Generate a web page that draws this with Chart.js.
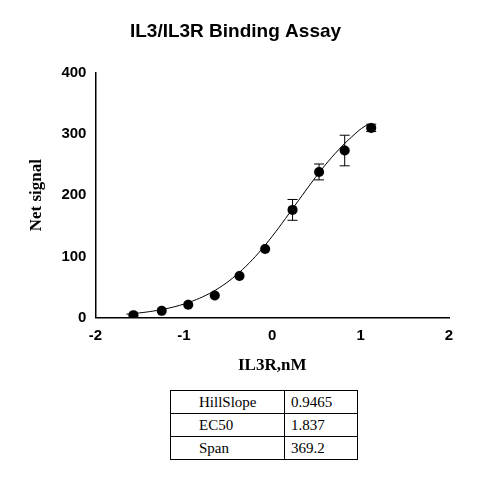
<!DOCTYPE html>
<html>
<head>
<script src="https://cdn.jsdelivr.net/npm/chart.js@4"></script>
<style>
body { margin: 0; background: #fff; }
#wrap { position: relative; width: 485px; height: 482px; }
table { position: absolute; left: 170px; top: 390px; border-collapse: collapse;
  font-family: "Liberation Serif", serif; font-size: 15px; }
td { border: 1px solid #000; height: 22px; padding: 0; }
td.k { width: 85px; padding-left: 28px; }
td.v { width: 66px; padding-left: 6px; }
</style>
</head>
<body>
<div id="wrap">
<canvas id="c" width="485" height="380"></canvas>
<table id="t"></table>
</div>
<script>
// measured points (log10 nM)
const xs = [-1.57, -1.25, -0.95, -0.65, -0.37, -0.08, 0.23, 0.53, 0.82, 1.12];
const ys = [4, 11, 21, 36, 68, 112, 176, 238, 273, 310];
const errs = [0, 0, 0, 0, 0, 0, 17, 13, 25, 6];

// fitted curve as drawn
const curveX = [-1.65, -1.5, -1.35, -1.2, -1.05, -0.9, -0.75, -0.6, -0.45, -0.3, -0.15, 0, 0.15, 0.3, 0.45, 0.6, 0.75, 0.9, 1.05, 1.12];
const curveY = [5.6, 7.7, 10.6, 14.6, 19.9, 27.1, 36.5, 48.7, 64.3, 83.5, 106.4, 132.8, 161.9, 191.8, 221.5, 249.3, 274.1, 295.4, 312.9, 315];

const params = [["HillSlope", "0.9465"], ["EC50", "1.837"], ["Span", "369.2"]];

const t = document.getElementById("t");
params.forEach(p => {
  const tr = document.createElement("tr");
  tr.innerHTML = '<td class="k">' + p[0] + '</td><td class="v">' + p[1] + '</td>';
  t.appendChild(tr);
});

// error bars
const errorBars = {
  id: "errorBars",
  afterDatasetsDraw(chart) {
    const ctx = chart.ctx, sx = chart.scales.x, sy = chart.scales.y;
    ctx.save();
    ctx.strokeStyle = "#000";
    ctx.lineWidth = 1;
    xs.forEach((x, i) => {
      if (!errs[i]) return;
      const px = sx.getPixelForValue(x);
      const top = sy.getPixelForValue(ys[i] + errs[i]);
      const bot = sy.getPixelForValue(ys[i] - errs[i]);
      ctx.beginPath();
      ctx.moveTo(px, top); ctx.lineTo(px, bot);
      ctx.moveTo(px - 5, top); ctx.lineTo(px + 5, top);
      ctx.moveTo(px - 5, bot); ctx.lineTo(px + 5, bot);
      ctx.stroke();
    });
    ctx.restore();
  }
};

const tickFont = { family: "Liberation Sans", size: 15, weight: "bold" };
const titleFont = { family: "Liberation Serif", size: 17, weight: "bold" };

new Chart(document.getElementById("c"), {
  type: "scatter",
  data: {
    datasets: [{
      data: xs.map((x, i) => ({ x: x, y: ys[i] })),
      backgroundColor: "#000",
      pointRadius: 5,
      showLine: false
    }, {
      data: curveX.map((x, i) => ({ x: x, y: curveY[i] })),
      borderColor: "#000",
      borderWidth: 1,
      pointRadius: 0,
      showLine: true,
      tension: 0.4
    }]
  },
  options: {
    responsive: false,
    animation: false,
    layout: { padding: { top: 20, right: 36, left: 22 } },
    plugins: {
      legend: { display: false },
      tooltip: { enabled: false },
      title: {
        display: true,
        text: "IL3/IL3R Binding Assay",
        color: "#000",
        font: { family: "Liberation Sans", size: 19, weight: "bold" },
        padding: { top: 0, bottom: 30 }
      }
    },
    scales: {
      x: {
        min: -2, max: 2,
        ticks: { stepSize: 1, color: "#000", font: tickFont },
        grid: { display: false, drawTicks: true, tickColor: "#000", tickLength: 6 },
        border: { color: "#000", width: 1.5 },
        title: { display: true, text: "IL3R,nM", color: "#000", font: titleFont, padding: { top: 8 } }
      },
      y: {
        min: 0, max: 400,
        ticks: { stepSize: 100, color: "#000", font: tickFont },
        grid: { display: false, drawTicks: true, tickColor: "#000", tickLength: 6 },
        border: { color: "#000", width: 1.5 },
        title: { display: true, text: "Net signal", color: "#000", font: titleFont, padding: { bottom: 12 } }
      }
    }
  },
  plugins: [errorBars]
});
</script>
</body>
</html>
